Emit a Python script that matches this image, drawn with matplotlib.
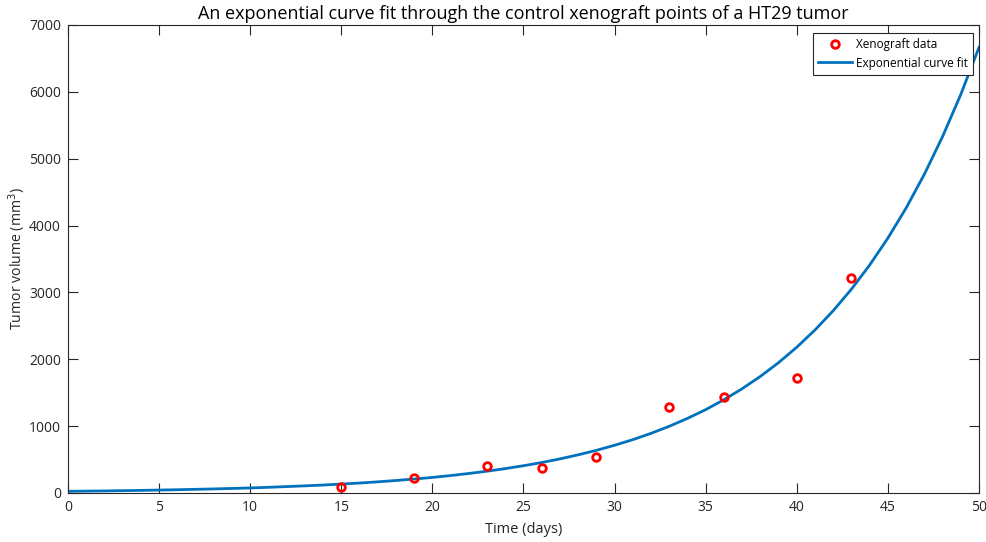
import matplotlib
matplotlib.use("Agg")
import matplotlib.pyplot as plt

plt.rcParams['font.family'] = ['Open Sans', 'DejaVu Sans']

# Xenograft measurements
days = [15, 19, 23, 26, 29, 33, 36, 40, 43]
volume = [85, 224, 404, 374, 538, 1286, 1440, 1715, 3216]

# Exponential fit curve (one per day)
fit_days = list(range(0, 51))
fit_volume = [25, 28, 31, 35, 39, 44, 49, 55, 61, 68,
              76, 85, 96, 107, 119, 134, 149, 167, 187, 209,
              233, 261, 292, 326, 365, 408, 456, 510, 571, 638,
              714, 798, 892, 998, 1116, 1247, 1395, 1560, 1744, 1950,
              2181, 2439, 2727, 3049, 3410, 3813, 4263, 4767, 5331, 5961,
              6666]

xticks = [0, 5, 10, 15, 20, 25, 30, 35, 40, 45, 50]
yticks = [0, 1000, 2000, 3000, 4000, 5000, 6000, 7000]

axc = '#262626'
fig = plt.figure(figsize=(9.87, 5.42), dpi=100)
ax = fig.add_axes([68/987, 49/542, 911/987, 468/542])

ax.plot(days, volume, 'o', linestyle='none', markerfacecolor='none',
        markeredgecolor='#ff0000', markeredgewidth=2.0, markersize=5.5,
        label='Xenograft data', zorder=3)
ax.plot(fit_days, fit_volume, color='#0072BD', linewidth=2.0,
        label='Exponential curve fit', zorder=2)

ax.set_xlim(0, 50)
ax.set_ylim(0, 7000)
ax.set_xticks(xticks)
ax.set_yticks(yticks)
ax.tick_params(direction='in', length=7, width=0.8, colors=axc,
               labelsize=10, top=True, right=True, pad=5)
for s in ax.spines.values():
    s.set_color(axc)
    s.set_linewidth(0.8)

ax.set_xlabel('Time (days)', fontsize=10.5, color=axc)
ax.set_ylabel('Tumor volume (mm$^3$)', fontsize=10.2, color=axc)
ax.xaxis.set_label_coords(0.5, -0.062)
ax.yaxis.set_label_coords(-0.044, 0.5)
ax.set_title('An exponential curve fit through the control xenograft points of a HT29 tumor',
             fontsize=13, color='black', pad=4)

leg = ax.legend(loc='upper right', fontsize=8.5, frameon=True, fancybox=False,
                edgecolor=axc, borderpad=0.45, handlelength=2.9,
                handletextpad=0.3, labelspacing=0.45, borderaxespad=0,
                bbox_to_anchor=(0.9934, 0.983), framealpha=1)
leg.get_frame().set_linewidth(0.8)

fig.savefig('out.png', dpi=100)
